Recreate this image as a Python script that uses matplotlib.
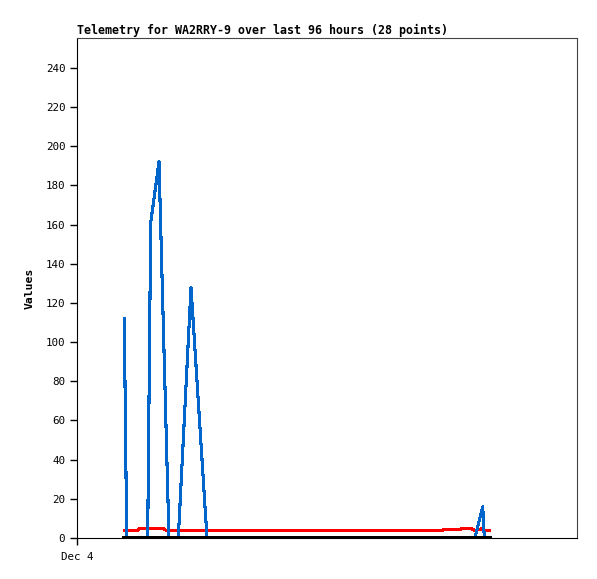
import matplotlib
matplotlib.use("Agg")
import matplotlib.pyplot as plt

# hours since start of x-axis (Dec 4 00:00), axis spans 96 hours
blue_t = [9.08, 9.54, 13.57, 14.15, 15.74, 17.66, 19.45, 21.89, 24.96, 76.4, 77.9, 78.2, 79.1]
blue_v = [112, 0, 0, 161, 192, 0, 0, 128, 0, 0, 16, 0, 0]

red_t = [9.08, 11.5, 12.0, 16.6, 17.2, 70.0, 70.3, 73.6, 73.8, 75.8, 76.4, 77.6, 78.3, 79.1]
red_v = [3.7, 3.7, 4.8, 4.8, 3.7, 3.7, 4.2, 4.2, 4.7, 4.7, 3.9, 4.7, 3.7, 3.7]

black_t = [9.08, 79.1]
black_v = [0, 0]

yticks = list(range(0, 241, 20))
xtick_labels = ["Dec 4"]

fig = plt.figure(figsize=(5.97, 5.79), dpi=100)
ax = fig.add_axes([77/597, 1 - 538/579, 500/597, 500/579])

ax.plot(red_t, red_v, color="#ff0000", lw=1.5, antialiased=False)
ax.plot(blue_t, blue_v, color="#0066cc", lw=1.5, antialiased=False)
ax.plot(black_t, black_v, color="black", lw=2.2, antialiased=False)

ax.set_xlim(0, 96)
ax.set_ylim(0, 255.3)
ax.set_yticks(yticks)
ax.set_yticklabels([str(v) for v in yticks], fontsize=7.8, family="DejaVu Sans Mono")
ax.set_xticks([0])
ax.set_xticklabels(xtick_labels, fontsize=7.8, family="DejaVu Sans Mono")
ax.tick_params(axis="both", direction="out", length=5, width=1, color="black")
ax.tick_params(axis="x", pad=5)

for s in ["top", "right"]:
    ax.spines[s].set_color("#444444")
for s in ["left", "bottom"]:
    ax.spines[s].set_color("black")

ax.set_ylabel("Values", fontsize=8.2, fontweight="bold", family="DejaVu Sans Mono", labelpad=8)
ax.set_title("Telemetry for WA2RRY-9 over last 96 hours (28 points)", fontsize=8.35,
             fontweight="bold", family="DejaVu Sans Mono", loc="left", pad=3)

fig.savefig("out.png", dpi=100)
